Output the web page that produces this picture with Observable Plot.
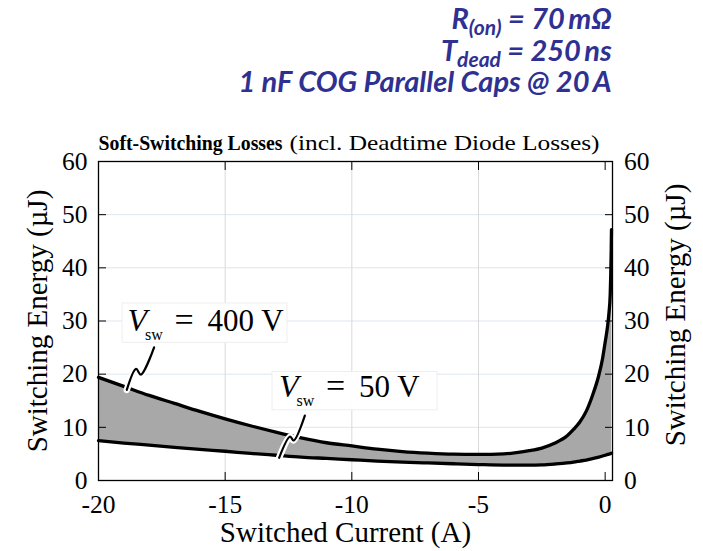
<!DOCTYPE html>
<html>
<head>
<meta charset="utf-8">
<script src="https://cdn.jsdelivr.net/npm/d3@7"></script>
<script src="https://cdn.jsdelivr.net/npm/@observablehq/plot@0.6"></script>
<style>
  html, body { margin: 0; padding: 0; background: #fff; }
  #wrap { position: relative; width: 703px; height: 551px; }
  #note { position: absolute; left: 0; top: 0; }
</style>
</head>
<body>
<div id="wrap"></div>
<script>
// ---- data ----
const current = [-20, -19, -18, -17, -16, -15, -14, -13, -12, -11, -10, -9, -8, -7, -6, -5, -4, -3.5, -3, -2.5, -2, -1.5, -1.25, -1, -0.75, -0.5, -0.25, -0.1, 0, 0.1, 0.15, 0.2, 0.22, 0.24, 0.25];
const energy400 = [19.4, 17.7, 16.0, 14.5, 13.0, 11.6, 10.3, 9.1, 8.0, 7.1, 6.5, 5.9, 5.45, 5.15, 4.95, 4.9, 5.0, 5.25, 5.6, 6.1, 7.0, 8.4, 9.6, 11.0, 13.0, 16.0, 19.8, 23.0, 26.0, 29.2, 31.5, 35.0, 38.5, 43.5, 47.2];
const energy50  = [7.5, 7.05, 6.65, 6.25, 5.85, 5.5, 5.1, 4.75, 4.4, 4.15, 3.9, 3.65, 3.45, 3.3, 3.15, 3.0, 2.9, 2.9, 2.9, 2.95, 3.1, 3.3, 3.45, 3.65, 3.85, 4.1, 4.4, 4.6, 4.75, 4.9, 4.95, 5.05, 5.1, 5.1, 5.15];

const xTicks = [-20, -15, -10, -5, 0];
const yTicks = [0, 10, 20, 30, 40, 50, 60];
const xGrid = [-15, -10, -5];
const yGrid = [10, 20, 30, 40, 50];

const titleBold = "Soft-Switching Losses";
const titleRest = "(incl. Deadtime Diode Losses)";
const xLabel = "Switched Current (A)";
const yLabel = "Switching Energy (\u00b5J)";

// curve labels: voltage text, anchor (start of italic V, baseline), white box
const labelVolt = ["400 V", "50 V"];
const labelX = [-18.855, -12.87];
const labelY = [28.2, 15.66];
const boxX1 = [-19.05, -13.13];
const boxX2 = [-12.54, -6.62];
const boxY1 = [25.9, 13.2];
const boxY2 = [33.3, 20.4];

// leader squiggles
const squiggleGroup = ["400", "400", "400", "400", "50", "50", "50", "50"];
const squiggleX = [-18.883, -18.516, -18.33, -17.805, -12.87, -12.436, -12.30, -11.855];
const squiggleY = [17.05, 21.0, 19.92, 25.06, 4.27, 8.27, 7.52, 12.22];

// ---- tables built from the arrays ----
const curves = current.map((x, i) => ({x, hi: energy400[i], lo: energy50[i]}));
const labels = labelVolt.map((t, i) => ({t, x: labelX[i], y: labelY[i], x1: boxX1[i], x2: boxX2[i], y1: boxY1[i], y2: boxY2[i]}));
const squiggles = squiggleX.map((x, i) => ({x, y: squiggleY[i], g: squiggleGroup[i]}));

const serif = "'Liberation Serif', 'Times New Roman', serif";

const plot = Plot.plot({
  width: 703,
  height: 551,
  marginTop: 161,
  marginBottom: 71,
  marginLeft: 98,
  marginRight: 91,
  x: {domain: [-20, 0.29]},
  y: {domain: [0, 60]},
  style: {fontFamily: serif, fontSize: "25.5px", color: "black", background: "white", overflow: "visible"},
  marks: [
    Plot.gridY(yGrid, {stroke: "#dde5ef", strokeOpacity: 1, strokeWidth: 1}),
    Plot.gridX(xGrid, {stroke: "#d9d9d9", strokeOpacity: 1, strokeWidth: 1}),
    Plot.areaY(curves, {x: "x", y1: "lo", y2: "hi", fill: "#a8a8a8", curve: "monotone-x"}),
    Plot.line(curves, {x: "x", y: "hi", stroke: "black", strokeWidth: 3.3, curve: "monotone-x"}),
    Plot.line(curves, {x: "x", y: "lo", stroke: "black", strokeWidth: 3.3, curve: "monotone-x"}),
    Plot.rect(labels, {x1: "x1", x2: "x2", y1: "y1", y2: "y2", fill: "white", fillOpacity: 0.93, stroke: "#eeeeee", strokeWidth: 1}),
    Plot.text(labels, {x: "x", y: "y", text: () => "V", fontStyle: "italic", fontSize: 32, textAnchor: "start", lineAnchor: "bottom"}),
    Plot.text(labels, {x: "x", y: "y", text: () => "sw", fontSize: 16, textAnchor: "start", lineAnchor: "bottom", dx: 17.5, dy: 9}),
    Plot.text(labels, {x: "x", y: "y", text: () => "=", fontSize: 34, textAnchor: "start", lineAnchor: "bottom", dx: 47}),
    Plot.text(labels, {x: "x", y: "y", text: "t", fontSize: 31, textAnchor: "start", lineAnchor: "bottom", dx: 80}),
    Plot.line(squiggles, {x: "x", y: "y", z: "g", stroke: "white", strokeWidth: 6.5, curve: "catmull-rom"}),
    Plot.line(squiggles, {x: "x", y: "y", z: "g", stroke: "black", strokeWidth: 2.2, curve: "catmull-rom"}),
    Plot.frame({stroke: "black", strokeWidth: 1.3}),
    Plot.axisX(xTicks, {anchor: "bottom", tickSize: -8, tickPadding: 22, label: null, tickFormat: d => String(d)}),
    Plot.axisX(xTicks, {anchor: "top", tickSize: -8, tickPadding: 0, label: null, tickFormat: () => ""}),
    Plot.axisY(yTicks, {anchor: "left", tickSize: -8, tickPadding: 19, label: null, tickFormat: d => String(d)}),
    Plot.axisY(yTicks, {anchor: "right", tickSize: -8, tickPadding: 19.5, label: null, tickFormat: d => String(d)}),
    Plot.text([titleBold], {text: d => d, frameAnchor: "top-left", textAnchor: "start", lineAnchor: "bottom", dy: -12, fontWeight: "bold", fontSize: 21}),
    Plot.text([titleRest], {text: d => d, frameAnchor: "top-left", textAnchor: "start", lineAnchor: "bottom", dy: -12, dx: 191, fontSize: 22}),
    Plot.text([xLabel], {text: d => d, frameAnchor: "bottom", textAnchor: "middle", lineAnchor: "bottom", dy: 61, dx: -10, fontSize: 29}),
    Plot.text([yLabel], {text: d => d, frameAnchor: "left", textAnchor: "middle", lineAnchor: "middle", rotate: -90, dx: -61, fontSize: 29}),
    Plot.text([yLabel], {text: d => d, frameAnchor: "right", textAnchor: "middle", lineAnchor: "middle", rotate: -90, dx: 63, dy: -6, fontSize: 29})
  ]
});

// fit the serif title parts to the reference widths
for (const t of plot.querySelectorAll("text")) {
  if (t.textContent === titleBold) { t.setAttribute("textLength", 184); t.setAttribute("lengthAdjust", "spacingAndGlyphs"); }
  if (t.textContent === titleRest) { t.setAttribute("textLength", 310); t.setAttribute("lengthAdjust", "spacingAndGlyphs"); }
}

const wrap = document.getElementById("wrap");
wrap.appendChild(plot);

// blue parameter note (caption above the axes)
const ns = "http://www.w3.org/2000/svg";
const note = document.createElementNS(ns, "svg");
note.setAttribute("id", "note");
note.setAttribute("width", 703);
note.setAttribute("height", 110);
note.innerHTML = `
<g fill="#2e3192" font-family="Lato, 'Open Sans', sans-serif" font-style="italic" font-weight="700" font-size="29" text-anchor="end">
  <text x="611.7" y="29">R<tspan font-size="21" dy="6">(on)</tspan><tspan dy="-6"> = 70\u2009m\u03a9</tspan></text>
  <text x="611.7" y="60.5">T<tspan font-size="21" dy="6">dead</tspan><tspan dy="-6"> = 250\u2009ns</tspan></text>
  <text x="611.7" y="91.5">1 nF COG Parallel Caps @ 20\u2009A</text>
</g>`;
wrap.appendChild(note);
</script>
</body>
</html>
